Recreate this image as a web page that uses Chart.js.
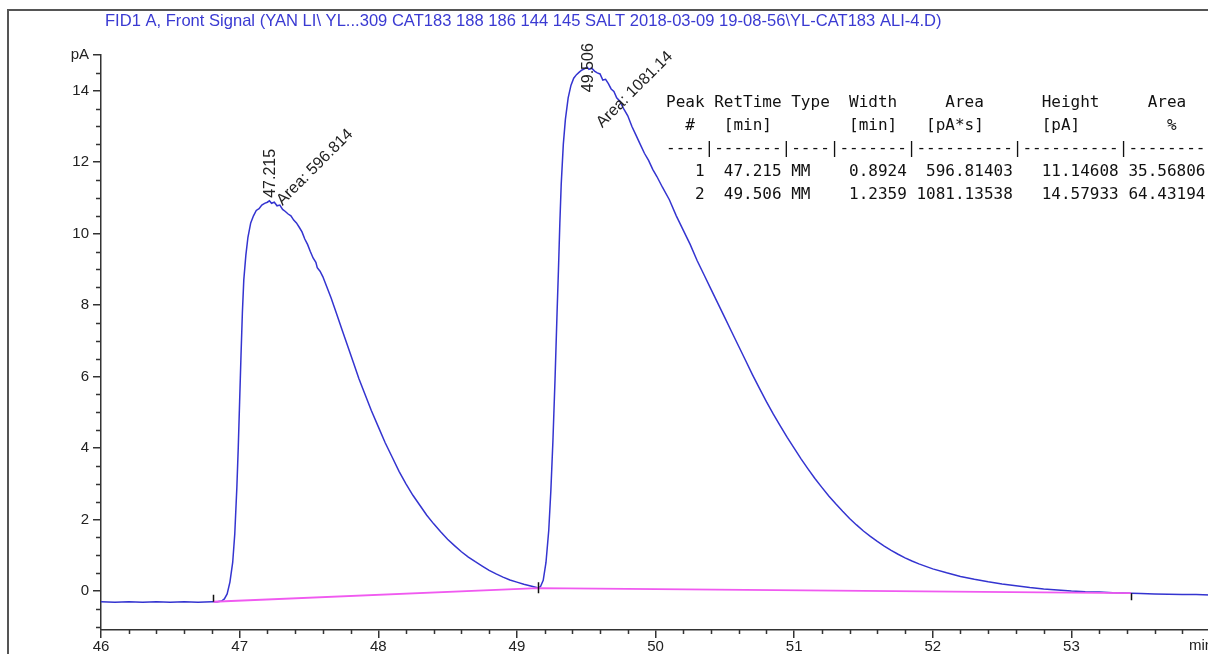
<!DOCTYPE html>
<html><head><meta charset="utf-8">
<script src="https://cdn.jsdelivr.net/npm/chart.js@4.4.1/dist/chart.umd.min.js"></script>
<style>html,body{margin:0;padding:0;background:#fff;overflow:hidden;width:1208px;height:654px}canvas{display:block}</style>
</head><body>
<canvas id="c" width="1240" height="654"></canvas>
<script>
const titleText = 'FID1 A, Front Signal (YAN LI\\ YL...309 CAT183 188 186 144 145 SALT 2018-03-09 19-08-56\\YL-CAT183 ALI-4.D)';

const signalTime = [46.0,46.1,46.2,46.3,46.4,46.5,46.6,46.7,46.8,46.84,46.87,
46.89,46.91,46.93,46.95,46.965,46.98,46.99,47.0,47.01,47.02,47.03,47.045,47.06,47.08,47.1,47.12,47.14,47.16,47.18,47.2,47.215,
47.23,47.25,47.27,47.29,47.31,47.33,47.35,47.37,47.39,47.41,47.43,47.45,47.47,47.49,47.51,47.53,47.55,47.56,47.58,47.6,47.63,47.66,
47.7,47.74,47.78,47.82,47.86,47.9,47.95,48.0,48.05,48.1,48.15,48.2,48.25,48.3,48.35,48.4,48.45,48.5,48.55,48.6,48.65,48.7,48.75,
48.8,48.85,48.9,48.95,49.0,49.05,49.1,49.15,49.17,49.19,49.21,49.23,49.245,49.26,49.275,49.29,49.3,49.31,49.32,49.335,49.35,49.37,
49.39,49.41,49.43,49.45,49.47,49.49,49.506,49.52,49.54,49.56,49.58,49.6,49.62,49.64,49.66,49.68,49.7,49.72,49.74,49.77,49.8,49.83,
49.86,49.89,49.92,49.95,49.98,50.01,50.05,50.1,50.15,50.2,50.25,50.3,50.35,50.4,50.45,50.5,50.55,50.6,50.65,50.7,50.75,50.8,50.85,
50.9,50.95,51.0,51.05,51.1,51.15,51.2,51.25,51.3,51.35,51.4,51.45,51.5,51.55,51.6,51.65,51.7,51.75,51.8,51.85,51.9,51.95,52.0,
52.1,52.2,52.3,52.4,52.5,52.6,52.7,52.8,52.9,53.0,53.1,53.2,53.3,53.43,53.5,53.6,53.7,53.8,53.9,54.0];

const signalValue = [-0.30,-0.31,-0.30,-0.31,-0.30,-0.31,-0.30,-0.31,-0.30,-0.30,-0.28,
-0.22,-0.08,0.25,0.8,1.6,2.9,4.0,5.3,6.6,7.8,8.7,9.4,9.9,10.3,10.5,10.65,10.7,10.8,10.85,10.88,10.92,
10.85,10.88,10.78,10.8,10.68,10.62,10.55,10.5,10.38,10.3,10.18,10.05,9.85,9.7,9.5,9.32,9.2,9.05,8.95,8.8,8.5,8.2,
7.75,7.3,6.85,6.4,5.95,5.55,5.05,4.6,4.15,3.75,3.35,3.0,2.68,2.4,2.12,1.88,1.66,1.45,1.27,1.1,0.95,0.82,0.7,
0.58,0.48,0.39,0.31,0.25,0.19,0.14,0.09,0.12,0.3,0.8,1.7,2.8,4.2,5.9,7.8,9.0,10.3,11.4,12.5,13.2,13.8,
14.15,14.35,14.45,14.52,14.58,14.62,14.66,14.6,14.63,14.55,14.5,14.47,14.3,14.32,14.2,14.05,13.98,13.8,13.72,13.5,13.3,13.0,
12.75,12.5,12.25,12.05,11.8,11.6,11.3,10.95,10.5,10.1,9.7,9.25,8.85,8.45,8.05,7.65,7.25,6.85,6.45,6.05,5.67,5.3,4.95,
4.62,4.3,4.0,3.7,3.42,3.15,2.9,2.66,2.44,2.23,2.03,1.85,1.68,1.53,1.39,1.26,1.14,1.03,0.93,0.84,0.76,0.69,0.62,
0.51,0.41,0.33,0.26,0.2,0.15,0.1,0.06,0.03,0.0,-0.02,-0.03,-0.05,-0.06,-0.07,-0.08,-0.09,-0.1,-0.1,-0.11];

const baselineTime = [46.81, 49.15, 53.43];
const baselineValue = [-0.30, 0.08, -0.06];

const peakTime = [47.215, 49.506];
const peakValue = [10.92, 14.66];
const peakRtLabels = ['47.215', '49.506'];
const peakAreaLabels = ['Area: 596.814', 'Area: 1081.14'];

const xTickValues = [46, 47, 48, 49, 50, 51, 52, 53];
const xTickLabels = ['46', '47', '48', '49', '50', '51', '52', '53'];
const xUnitLabel = 'min';
const yTickValues = [0, 2, 4, 6, 8, 10, 12, 14, 15];
const yTickLabels = ['0', '2', '4', '6', '8', '10', '12', '14', 'pA'];

const tableLines = [
  'Peak RetTime Type  Width     Area      Height     Area',
  '  #   [min]        [min]   [pA*s]      [pA]         %',
  '----|-------|----|-------|----------|----------|--------|',
  '   1  47.215 MM    0.8924  596.81403   11.14608 35.56806',
  '   2  49.506 MM    1.2359 1081.13538   14.57933 64.43194'
];

const AXIS = '#333';
const FONT = '"Liberation Sans", Arial, sans-serif';
const overlay = {
  id: 'overlay',
  afterDraw(chart) {
    const ctx = chart.ctx, xs = chart.scales.x, ys = chart.scales.y, a = chart.chartArea;
    ctx.save();
    // frame
    ctx.strokeStyle = '#555'; ctx.lineWidth = 2;
    ctx.beginPath(); ctx.moveTo(8, 700); ctx.lineTo(8, 10); ctx.lineTo(1240, 10); ctx.stroke();
    // title
    let fs = 14;
    ctx.font = fs + 'px ' + FONT;
    const w = ctx.measureText(titleText).width;
    fs = fs * 837 / w;
    ctx.font = fs.toFixed(2) + 'px ' + FONT;
    ctx.fillStyle = '#3a3ad2'; ctx.textBaseline = 'middle'; ctx.textAlign = 'left';
    ctx.fillText(titleText, 105, 21);
    // x unit label
    ctx.font = '15px ' + FONT; ctx.fillStyle = '#222'; ctx.textBaseline = 'top';
    ctx.fillText(xUnitLabel, 1189, a.bottom + 8);
    // minor ticks
    ctx.strokeStyle = AXIS; ctx.lineWidth = 1.5;
    ctx.beginPath();
    for (let i = -2; i <= 29; i++) {
      const v = i * 0.5;
      if (v < ys.min || v > ys.max) continue;
      if (yTickValues.includes(v)) continue;
      const y = Math.round(ys.getPixelForValue(v)) + 0.5;
      ctx.moveTo(a.left - 5, y); ctx.lineTo(a.left, y);
    }
    for (let i = 231; i < 270; i++) {
      if (i % 5 === 0) continue;
      const x = Math.round(xs.getPixelForValue(i * 0.2)) + 0.5;
      ctx.moveTo(x, a.bottom); ctx.lineTo(x, a.bottom + 4);
    }
    ctx.stroke();
    // baseline event markers
    const mk = [[-7, 0], [-6, 5], [0, 7]];
    ctx.strokeStyle = '#111'; ctx.lineWidth = 1.5;
    ctx.beginPath();
    baselineTime.forEach((t, i) => {
      const x = Math.round(xs.getPixelForValue(t)) + 0.5, y = ys.getPixelForValue(baselineValue[i]);
      ctx.moveTo(x, y + mk[i][0]); ctx.lineTo(x, y + mk[i][1]);
    });
    ctx.stroke();
    // peak labels
    const rtOff = [[1, -3], [2, 25]];
    const arOff = [[10, 2], [12, 58]];
    ctx.fillStyle = '#222';
    ctx.font = '16px ' + FONT;
    peakTime.forEach((t, i) => {
      const x = xs.getPixelForValue(t), y = ys.getPixelForValue(peakValue[i]);
      ctx.save(); ctx.translate(x + rtOff[i][0], y + rtOff[i][1]); ctx.rotate(-Math.PI / 2);
      ctx.textAlign = 'left'; ctx.textBaseline = 'middle'; ctx.fillText(peakRtLabels[i], 0, 0); ctx.restore();
      ctx.save(); ctx.translate(x + arOff[i][0], y + arOff[i][1]); ctx.rotate(-Math.PI / 4);
      ctx.textAlign = 'left'; ctx.textBaseline = 'middle'; ctx.fillText(peakAreaLabels[i], 0, 0); ctx.restore();
    });
    // table
    ctx.font = '16px "DejaVu Sans Mono", monospace';
    ctx.fillStyle = '#111'; ctx.textAlign = 'left'; ctx.textBaseline = 'middle';
    tableLines.forEach((s, i) => ctx.fillText(s, 666, 103 + i * 23));
    ctx.restore();
  }
};

new Chart(document.getElementById('c'), {
  type: 'line',
  data: {
    datasets: [
      {
        data: baselineTime.map((t, i) => ({ x: t, y: baselineValue[i] })),
        borderColor: '#f05af0', borderWidth: 1.8, pointRadius: 0, tension: 0, order: 0
      },
      {
        data: signalTime.map((t, i) => ({ x: t, y: signalValue[i] })),
        borderColor: '#3434d0', borderWidth: 1.5, pointRadius: 0, tension: 0, order: 1
      }
    ]
  },
  options: {
    responsive: false, animation: false, devicePixelRatio: 1,
    layout: { padding: { left: 0, top: 55, right: 30, bottom: 0 } },
    plugins: { legend: { display: false }, tooltip: { enabled: false }, title: { display: false } },
    scales: {
      x: {
        type: 'linear', min: 46, max: 54,
        afterBuildTicks: s => { s.ticks = xTickValues.map(v => ({ value: v })); },
        afterFit: s => { s.height = 24; },
        ticks: { autoSkip: false, maxRotation: 0, padding: 0, color: '#222',
          font: { family: FONT, size: 15 },
          callback: (v, i) => xTickLabels[i] },
        grid: { drawOnChartArea: false, drawTicks: true, tickLength: 8, color: AXIS, lineWidth: 1.5 },
        border: { display: true, color: AXIS, width: 1.5 }
      },
      y: {
        type: 'linear', min: -1.09, max: 15,
        afterBuildTicks: s => { s.ticks = yTickValues.map(v => ({ value: v })); },
        afterFit: s => { s.width = 101; },
        ticks: { padding: 4, color: '#222',
          font: { family: FONT, size: 15 },
          callback: (v, i) => yTickLabels[i] },
        grid: { drawOnChartArea: false, drawTicks: true, tickLength: 8, color: AXIS, lineWidth: 1.5 },
        border: { display: true, color: AXIS, width: 1.5 }
      }
    }
  },
  plugins: [overlay]
});
</script>
</body></html>
